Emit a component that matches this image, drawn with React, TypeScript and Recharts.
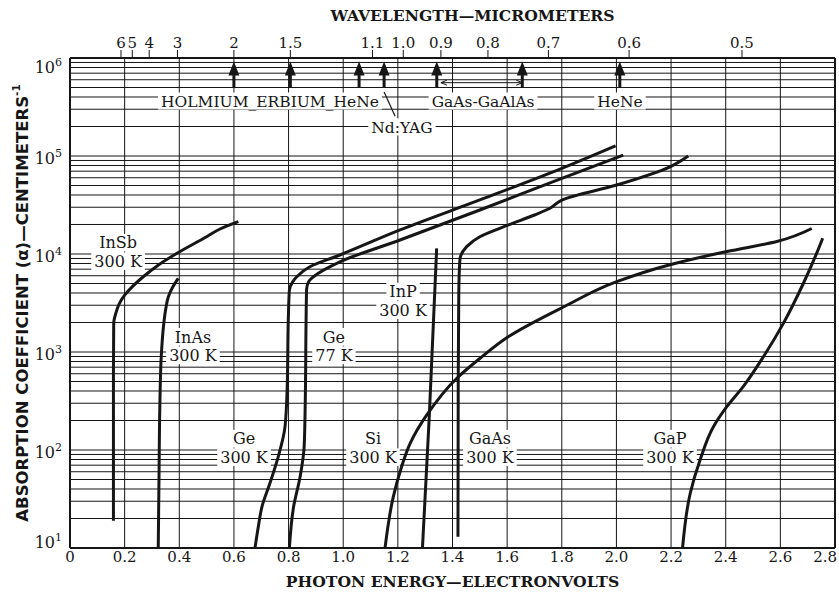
import React from "react";
import { LineChart, Line, XAxis, YAxis, ReferenceLine, ReferenceDot, Label } from "recharts";

// photon energy (eV) = HC / wavelength (µm)
const HC = 1.2398;
// the wavelength scale is registered this far (eV) left of the energy scale
const WAVELENGTH_SCALE_SHIFT = 0.02;

const energyTicks = [0, 0.2, 0.4, 0.6, 0.8, 1.0, 1.2, 1.4, 1.6, 1.8, 2.0, 2.2, 2.4, 2.6, 2.8];
const wavelengthTicks = [6, 5, 4, 3, 2, 1.5, 1.1, 1.0, 0.9, 0.8, 0.7, 0.6, 0.5];
const wavelengthLabels = ["6", "5", "4", "3", "2", "1.5", "1.1", "1.0", "0.9", "0.8", "0.7", "0.6", "0.5"];
const decades = [10, 100, 1000, 10000, 100000, 1000000];
const mantissas = [1, 2, 3, 4, 5, 6, 7, 8, 9];

// laser / LED source lines, micrometers
const laserWavelengths = [2.0, 1.5, 1.15, 1.06, 0.91, 0.74, 0.61];

// absorption curves: e = photon energy (eV), a = absorption coefficient (cm^-1)
const inSb = [
  { e: 0.159, a: 19 }, { e: 0.159, a: 600 }, { e: 0.16, a: 1960 }, { e: 0.168, a: 2500 },
  { e: 0.18, a: 3100 }, { e: 0.2, a: 3800 }, { e: 0.23, a: 4700 }, { e: 0.268, a: 5860 },
  { e: 0.32, a: 7600 }, { e: 0.39, a: 10100 }, { e: 0.5, a: 15000 }, { e: 0.549, a: 18000 },
  { e: 0.616, a: 21400 },
];
const inAs = [
  { e: 0.323, a: 10 }, { e: 0.326, a: 60 }, { e: 0.329, a: 300 }, { e: 0.334, a: 900 },
  { e: 0.342, a: 1810 }, { e: 0.35, a: 2700 }, { e: 0.36, a: 3660 }, { e: 0.376, a: 4600 },
  { e: 0.396, a: 5650 },
];
const ge300 = [
  { e: 0.677, a: 10 }, { e: 0.69, a: 17 }, { e: 0.702, a: 26 }, { e: 0.732, a: 46 },
  { e: 0.762, a: 85 }, { e: 0.787, a: 173 }, { e: 0.795, a: 443 }, { e: 0.799, a: 2140 },
  { e: 0.803, a: 4290 }, { e: 0.815, a: 5200 }, { e: 0.83, a: 5860 }, { e: 0.878, a: 7410 },
  { e: 0.988, a: 9770 }, { e: 1.208, a: 17600 }, { e: 1.5, a: 35600 }, { e: 1.8, a: 74800 },
  { e: 1.997, a: 127000 },
];
const ge77 = [
  { e: 0.803, a: 10 }, { e: 0.818, a: 26 }, { e: 0.842, a: 53 }, { e: 0.857, a: 108 },
  { e: 0.861, a: 300 }, { e: 0.864, a: 2000 }, { e: 0.866, a: 4400 }, { e: 0.875, a: 5300 },
  { e: 0.891, a: 5860 }, { e: 0.988, a: 8320 }, { e: 1.208, a: 13900 }, { e: 1.5, a: 28100 },
  { e: 1.8, a: 59200 }, { e: 2.025, a: 102000 },
];
const si = [
  { e: 1.153, a: 10 }, { e: 1.183, a: 33 }, { e: 1.214, a: 68 }, { e: 1.245, a: 117 },
  { e: 1.306, a: 228 }, { e: 1.415, a: 537 }, { e: 1.501, a: 863 }, { e: 1.604, a: 1430 },
  { e: 1.806, a: 2880 }, { e: 2.001, a: 5220 }, { e: 2.196, a: 7770 }, { e: 2.404, a: 10600 },
  { e: 2.587, a: 13400 }, { e: 2.715, a: 18200 },
];
const inP = [
  { e: 1.29, a: 10 }, { e: 1.315, a: 220 }, { e: 1.342, a: 11400 },
];
const gaAs = [
  { e: 1.42, a: 13 }, { e: 1.421, a: 500 }, { e: 1.423, a: 4000 }, { e: 1.427, a: 8700 },
  { e: 1.452, a: 11900 }, { e: 1.5, a: 15000 }, { e: 1.605, a: 19800 }, { e: 1.7, a: 25000 },
  { e: 1.757, a: 29300 }, { e: 1.8, a: 35500 }, { e: 2.001, a: 50600 }, { e: 2.196, a: 77600 },
  { e: 2.263, a: 100000 },
];
const gaP = [
  { e: 2.242, a: 10 }, { e: 2.27, a: 36 }, { e: 2.306, a: 79 }, { e: 2.355, a: 173 },
  { e: 2.404, a: 277 }, { e: 2.464, a: 443 }, { e: 2.538, a: 895 }, { e: 2.611, a: 1960 },
  { e: 2.684, a: 5000 }, { e: 2.733, a: 10200 }, { e: 2.755, a: 14500 },
];

const curves = [inSb, inAs, ge300, ge77, si, inP, gaAs, gaP];

const curveTags = [
  { lines: ["InSb", "300 K"], e: 0.176, a: 10500 },
  { lines: ["InAs", "300 K"], e: 0.45, a: 1150 },
  { lines: ["Ge", "77 K"], e: 0.966, a: 1150 },
  { lines: ["InP", "300 K"], e: 1.219, a: 3330 },
  { lines: ["Ge", "300 K"], e: 0.637, a: 105 },
  { lines: ["Si", "300 K"], e: 1.109, a: 105 },
  { lines: ["GaAs", "300 K"], e: 1.537, a: 105 },
  { lines: ["GaP", "300 K"], e: 2.196, a: 105 },
];

const laserTags = [
  { text: "HOLMIUM_ERBIUM_HeNe", e: 0.732, a: 364000 },
  { text: "GaAs-GaAlAs", e: 1.512, a: 364000 },
  { text: "HeNe", e: 2.013, a: 364000 },
  { text: "Nd:YAG", e: 1.215, a: 198000 },
];

const SERIF = "'DejaVu Serif', serif";
const INK = "#161616";

const gridValues = decades.slice(0, -1).flatMap((d) => mantissas.map((m) => m * d)).concat([1000000]);

const canvas = typeof document !== "undefined" ? document.createElement("canvas") : null;
const textWidth = (s: string, size: number) => {
  const ctx = canvas ? canvas.getContext("2d") : null;
  if (!ctx) return s.length * size * 0.62;
  ctx.font = `${size}px 'DejaVu Serif'`;
  return ctx.measureText(s).width;
};

const Tag = ({ cx, cy, lines, size = 16, gap = 18.5 }: any) => {
  const top = cy - ((lines.length - 1) * gap) / 2;
  return (
    <g>
      {lines.map((s: string, i: number) => {
        const w = textWidth(s, size) + 6;
        const y = top + i * gap;
        return (
          <g key={i}>
            <rect x={cx - w / 2} y={y - size * 0.55} width={w} height={size * 1.1} fill="#fff" />
            <text x={cx} y={y} dy="0.36em" textAnchor="middle" fontFamily={SERIF} fontSize={size} fill={INK}>
              {s}
            </text>
          </g>
        );
      })}
    </g>
  );
};

const LaserArrow = ({ x1, y1, x2, y2 }: any) => (
  <g>
    <line x1={x1} y1={y1} x2={x2} y2={y2 + 8} stroke={INK} strokeWidth={3} />
    <path d={`M${x2 - 5.5},${y2 + 14} L${x2},${y2} L${x2 + 5.5},${y2 + 14} Z`} fill={INK} />
  </g>
);

const RangeArrow = ({ x1, y1, x2, y2 }: any) => (
  <g stroke={INK} strokeWidth={1} fill="none">
    <line x1={x1} y1={y1} x2={x2} y2={y2} />
    <path d={`M${x1 + 6},${y1 - 2.5} L${x1},${y1} L${x1 + 6},${y1 + 2.5}`} />
    <path d={`M${x2 - 6},${y2 - 2.5} L${x2},${y2} L${x2 - 6},${y2 + 2.5}`} />
  </g>
);

const PowerTick = ({ x, y, payload }: any) => {
  const exp = Math.round(Math.log10(payload.value));
  const shift = exp === 6 ? 15 : exp === 1 ? 0 : 8;
  return (
    <text x={x} y={y + shift} textAnchor="end" fontFamily={SERIF} fontSize={16} fill={INK}>
      10
      <tspan dy={-7} fontSize={11}>
        {exp}
      </tspan>
    </text>
  );
};

const EnergyTick = ({ x, y, payload }: any) => {
  const v = payload.value;
  const last = v === energyTicks[energyTicks.length - 1];
  return (
    <text
      x={last ? x + 2 : x}
      y={y + 12}
      textAnchor={last ? "end" : "middle"}
      fontFamily={SERIF}
      fontSize={15}
      fill={INK}
    >
      {v === 0 ? "0" : v.toFixed(1)}
    </text>
  );
};

const WavelengthTick = ({ x, y, payload }: any) => {
  const i = wavelengthTicks.findIndex((w) => Math.abs(HC / w - payload.value) < 1e-6);
  return (
    <text x={x} y={y} textAnchor="middle" fontFamily={SERIF} fontSize={15} fill={INK}>
      {i >= 0 ? wavelengthLabels[i] : ""}
    </text>
  );
};

const TopTitle = ({ viewBox }: any) => (
  <text
    x={viewBox.x + viewBox.width / 2 + 20}
    y={viewBox.y + 21}
    textAnchor="middle"
    fontFamily={SERIF}
    fontWeight="bold"
    fontSize={15.6}
    fill={INK}
  >
    WAVELENGTH—MICROMETERS
  </text>
);

const YTitle = ({ viewBox }: any) => {
  const cx = viewBox.x + 22;
  const cy = viewBox.y + viewBox.height / 2;
  return (
    <text
      x={cx}
      y={cy}
      transform={`rotate(-90 ${cx} ${cy})`}
      textAnchor="middle"
      dominantBaseline="central"
      fontFamily="'DejaVu Sans', sans-serif"
      fontWeight="bold"
      fontSize={16.5}
      fill={INK}
    >
      ABSORPTION COEFFICIENT (α)—CENTIMETERS
      <tspan dy={-6} fontSize={10.5}>
        -1
      </tspan>
    </text>
  );
};

export default function App() {
  const topDomain = [WAVELENGTH_SCALE_SHIFT, 2.8 + WAVELENGTH_SCALE_SHIFT];
  return (
    <div style={{ position: "absolute", left: 0, top: 0, background: "#fff" }}>
      <LineChart width={839} height={594} margin={{ top: 0, right: 4, bottom: 0, left: 0 }}>
        <XAxis
          type="number"
          dataKey="e"
          domain={[0, 2.8]}
          ticks={energyTicks}
          interval={0}
          allowDataOverflow
          axisLine={false}
          tickLine={false}
          tickSize={0}
          height={46}
          tick={<EnergyTick />}
        >
          <Label
            value="PHOTON ENERGY—ELECTRONVOLTS"
            position="insideBottom"
            offset={7}
            fontFamily={SERIF}
            fontWeight="bold"
            fontSize={15.6}
            fill={INK}
          />
        </XAxis>
        <XAxis
          xAxisId="top"
          orientation="top"
          type="number"
          dataKey="e"
          domain={topDomain}
          ticks={wavelengthTicks.map((w) => HC / w)}
          interval={0}
          allowDataOverflow
          axisLine={false}
          tickSize={8}
          tickMargin={2}
          tickLine={{ stroke: INK }}
          height={58}
          tick={<WavelengthTick />}
        >
          <Label content={<TopTitle />} />
        </XAxis>
        <YAxis
          type="number"
          dataKey="a"
          scale="log"
          domain={[10, 1000000]}
          ticks={decades}
          interval={0}
          allowDataOverflow
          axisLine={false}
          tickLine={false}
          tickSize={0}
          tickMargin={8}
          width={70}
          tick={<PowerTick />}
        >
          <Label content={<YTitle />} />
        </YAxis>

        {gridValues.map((v) => (
          <ReferenceLine key={`h${v}`} y={v} stroke={INK} strokeWidth={v === 10 || v === 1000000 ? 2 : 1} />
        ))}
        {energyTicks.map((v) => (
          <ReferenceLine key={`v${v}`} x={v} stroke={INK} strokeWidth={v === 0 || v === 2.8 ? 2 : 1} />
        ))}

        {/* keeps the wavelength axis bound to the chart */}
        <Line
          xAxisId="top"
          data={gaP}
          dataKey="a"
          stroke="none"
          dot={false}
          activeDot={false}
          isAnimationActive={false}
        />
        {curves.map((d, i) => (
          <Line
            key={i}
            data={d}
            dataKey="a"
            type="monotoneY"
            stroke={INK}
            strokeWidth={3}
            dot={false}
            activeDot={false}
            isAnimationActive={false}
          />
        ))}

        {laserWavelengths.map((w) => (
          <ReferenceLine
            key={`l${w}`}
            xAxisId="top"
            segment={[{ x: HC / w, y: 500000 }, { x: HC / w, y: 920000 }]}
            shape={<LaserArrow />}
          />
        ))}
        <ReferenceLine
          xAxisId="top"
          segment={[{ x: HC / 0.9, y: 560000 }, { x: HC / 0.74, y: 560000 }]}
          shape={<RangeArrow />}
        />
        <ReferenceLine
          xAxisId="top"
          segment={[{ x: HC / 1.06, y: 450000 }, { x: 1.21, y: 255000 }]}
          stroke={INK}
          strokeWidth={1.2}
        />

        {laserTags.map((t) => (
          <ReferenceDot
            key={t.text}
            x={t.e}
            y={t.a}
            r={0}
            shape={(p: any) => <Tag cx={p.cx} cy={p.cy} lines={[t.text]} size={15.5} />}
          />
        ))}
        {curveTags.map((t, i) => (
          <ReferenceDot
            key={`c${i}`}
            x={t.e}
            y={t.a}
            r={0}
            shape={(p: any) => <Tag cx={p.cx} cy={p.cy} lines={t.lines} />}
          />
        ))}
      </LineChart>
    </div>
  );
}
